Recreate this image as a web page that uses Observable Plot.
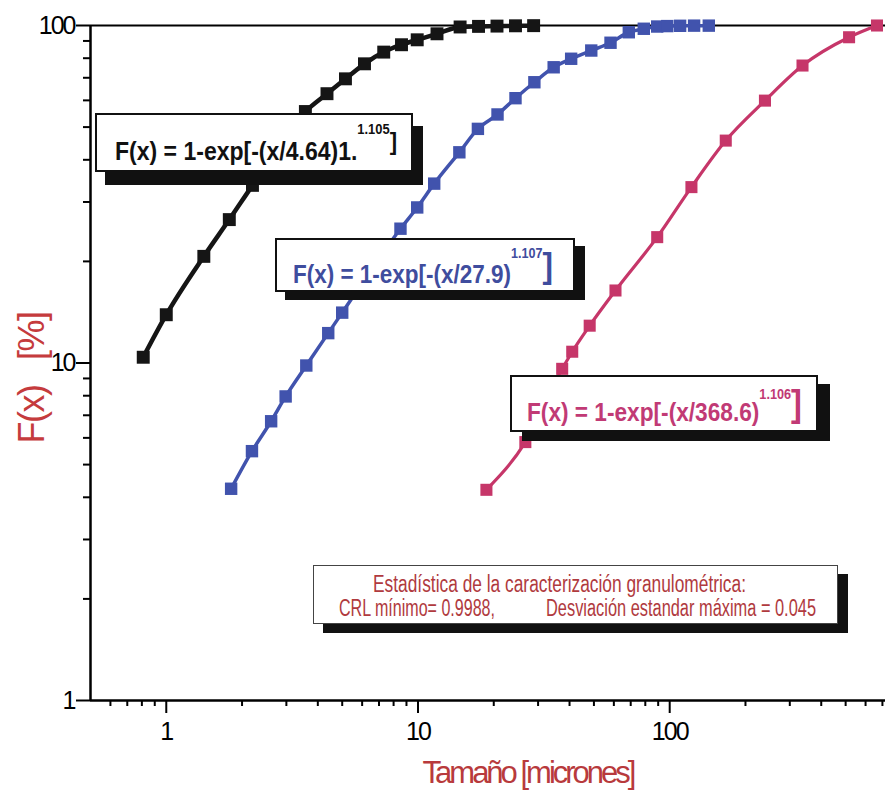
<!DOCTYPE html>
<html><head><meta charset="utf-8">
<script src="https://cdn.jsdelivr.net/npm/d3@7"></script>
<script src="https://cdn.jsdelivr.net/npm/@observablehq/plot@0.6"></script>
<style>
html,body{margin:0;padding:0;background:#fff;}
#wrap{position:relative;width:885px;height:804px;overflow:hidden;font-family:"Liberation Sans",Arial,sans-serif;}
#wrap svg{display:block;}
#wrap g[aria-label="x-axis tick label"] text,#wrap g[aria-label="y-axis tick label"] text{letter-spacing:-2px;}
.box{position:absolute;background:#fff;box-sizing:border-box;}
.t{position:absolute;white-space:nowrap;display:inline-block;transform-origin:0 0;line-height:1;}
.t span{position:relative;line-height:0;}
</style></head><body><div id="wrap"></div>
<script>
// ---- data ----
const blackX = [0.81, 1.0, 1.41, 1.78, 2.2, 3.57, 4.35, 5.15, 6.13, 7.31, 8.6, 9.93, 11.9, 14.7, 17.4, 20.6, 24.4, 28.8];
const blackY = [10.4, 13.9, 20.7, 26.6, 33.6, 55.6, 62.8, 69.5, 77.0, 83.4, 87.7, 90.7, 94.5, 99.0, 99.4, 99.6, 99.8, 99.9];
const blueX = [1.81, 2.19, 2.61, 2.98, 3.60, 4.40, 5.0, 8.52, 9.93, 11.6, 14.6, 17.3, 20.7, 24.4, 29.0, 34.6, 40.6, 48.8, 58.2, 68.8, 78.9, 89.2, 97.8, 110, 125, 143];
const blueY = [4.24, 5.48, 6.72, 7.96, 9.83, 12.26, 14.1, 25.0, 28.9, 34.0, 42.1, 49.4, 54.5, 60.9, 67.9, 75.2, 79.7, 84.3, 88.9, 95.5, 97.8, 99.3, 99.6, 99.8, 99.9, 99.9];
const redX = [18.7, 26.7, 37.4, 41.0, 48.1, 60.9, 89.2, 122, 167, 239, 337, 516, 666];
const redY = [4.21, 5.83, 9.61, 10.8, 12.9, 16.4, 23.6, 33.2, 45.6, 59.9, 76.1, 92.3, 100];
const xDomain = [0.5, 720];
const yDomain = [1, 100];
const xMajor = [1, 10, 100];
const xMinor = [0.6, 0.7, 0.8, 0.9, 2, 3, 4, 5, 6, 7, 8, 9, 20, 30, 40, 50, 60, 70, 80, 90, 200, 300, 400, 500, 600, 700];
const yMajor = [1, 10, 100];
const yMinor = [2, 3, 4, 5, 6, 7, 8, 9, 20, 30, 40, 50, 60, 70, 80, 90];
const xTitle = "Tamaño [micrones]";
const yTitle = "F(x)\u00a0\u00a0\u00a0[%]";

const table = (xs, ys) => xs.map((x, i) => ({x, y: ys[i]}));
const black = table(blackX, blackY), blue = table(blueX, blueY), red = table(redX, redY);

const cBlack = "#151515", cBlue = "#4153ad", cRed = "#c63669";

const chart = Plot.plot({
  width: 885, height: 804,
  marginLeft: 90, marginRight: 0, marginTop: 25, marginBottom: 104,
  style: {fontFamily: "'Liberation Sans', Arial, sans-serif", background: "#fff", overflow: "visible", color: "#000"},
  x: {type: "log", domain: xDomain, axis: null},
  y: {type: "log", domain: yDomain, axis: null},
  marks: [
    Plot.axisX(xMinor, {tickSize: 6, tickFormat: () => "", strokeWidth: 2, label: null}),
    Plot.axisX(xMajor, {tickSize: 13, tickPadding: 9, tickFormat: d => String(d), fontSize: 25, strokeWidth: 2, label: null}),
    Plot.axisY(yMinor, {tickSize: 7, tickFormat: () => "", strokeWidth: 2, label: null}),
    Plot.axisY(yMajor, {tickSize: 14, tickPadding: 2, tickFormat: d => String(d), fontSize: 25, strokeWidth: 2, label: null}),
    Plot.ruleX([xDomain[0]], {strokeWidth: 2.5}),
    Plot.ruleY([yDomain[0]], {strokeWidth: 2.5}),
    Plot.ruleY([yDomain[1]], {strokeWidth: 2}),
    Plot.line(black, {x: "x", y: "y", stroke: cBlack, strokeWidth: 4.5, curve: "monotone-x"}),
    Plot.dot(black, {x: "x", y: "y", symbol: "square", r: 7.3, fill: cBlack}),
    Plot.line(blue, {x: "x", y: "y", stroke: cBlue, strokeWidth: 3.5, curve: "monotone-x"}),
    Plot.dot(blue, {x: "x", y: "y", symbol: "square", r: 7, fill: cBlue}),
    Plot.line(red, {x: "x", y: "y", stroke: cRed, strokeWidth: 3.2, curve: "monotone-x"}),
    Plot.dot(red, {x: "x", y: "y", symbol: "square", r: 6.8, fill: cRed}),
    Plot.text([xTitle], {frameAnchor: "bottom", dx: 40, dy: 82, fontSize: 31, fill: "#b83a3c"}),
    Plot.text([yTitle], {frameAnchor: "left", textAnchor: "middle", rotate: -90, dx: -58, dy: 15, fontSize: 36, fill: "#c53b3d"})
  ]
});
const wrap = document.getElementById("wrap");
wrap.appendChild(chart);
chart.querySelectorAll('g[aria-label="text"] text').forEach(t => {
  t.style.letterSpacing = t.textContent === xTitle ? "-3px" : "-1.5px";
});

// ---- annotation boxes (HTML overlay) ----
function box(left, top, w, h, border, sx, sy) {
  const d = document.createElement("div");
  d.className = "box";
  Object.assign(d.style, {left: left + "px", top: top + "px", width: w + "px", height: h + "px",
    border: border, boxShadow: `${sx}px ${sy}px 0 0 #111`});
  wrap.appendChild(d);
}
function txt(html, left, baseline, fs, width, color, weight) {
  const s = document.createElement("span");
  s.className = "t";
  s.innerHTML = html;
  Object.assign(s.style, {left: left + "px", top: (baseline - 0.8465 * fs) + "px", fontSize: fs + "px",
    color: color, fontWeight: weight || "normal"});
  s.dataset.w = width;
  wrap.appendChild(s);
}
function formula(main, sup, supRaise, brSize, brRaise) {
  return `${main}<span style="font-size:14px;top:-${supRaise}px">${sup}</span><span style="font-size:${brSize}px;top:-${brRaise}px">]</span>`;
}

box(95, 113, 318, 59, "2px solid #111", 10, 13);
txt(formula("F(x) = 1-exp[-(x/4.64)1.", "1.105", 26, 24, 10), 115, 160, 25, 282, "#111", "bold");

box(275, 238, 300, 54, "2px solid #111", 10, 8);
txt(formula("F(x) = 1-exp[-(x/27.9)", "1.107", 25, 35, 5), 293, 283, 25, 260, "#3f4d9e", "bold");

box(510, 375, 308, 57, "2px solid #111", 12, 9);
txt(formula("F(x) = 1-exp[-(x/368.6)", "1.106", 22, 36, 5), 527, 421, 25, 275, "#c13a75", "bold");

box(313, 565, 525, 59, "1px solid #444", 10, 9);
txt("Estadística de la caracterización granulométrica:", 373, 592, 23, 373, "#b03a3e");
txt("CRL mínimo= 0.9988,", 339, 616, 23, 156, "#b03a3e");
txt("Desviación estandar máxima = 0.045", 546, 616, 23, 270, "#b03a3e");

document.querySelectorAll(".t").forEach(el => {
  const nat = el.getBoundingClientRect().width;
  el.style.transform = `scaleX(${(+el.dataset.w) / nat})`;
});
</script>
</body></html>
